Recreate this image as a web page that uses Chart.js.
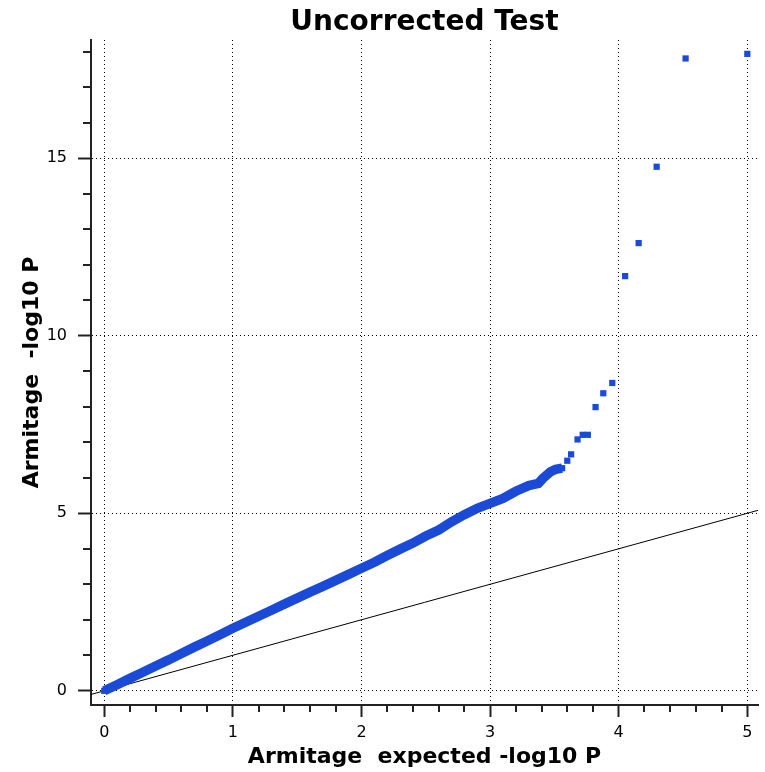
<!DOCTYPE html>
<html>
<head>
<meta charset="utf-8">
<title>Uncorrected Test</title>
<script src="https://cdn.jsdelivr.net/npm/chart.js@4/dist/chart.umd.min.js"></script>
<style>
    html, body { margin: 0; padding: 0; background: #fff; }
    #wrap { width: 765px; height: 772px; }
</style>
</head>
<body>
<div id="wrap"><canvas id="qq" width="765" height="772"></canvas></div>
<script>
    'use strict';

    var bandExpected = [0, 0.1, 0.2, 0.3, 0.4, 0.5, 0.6, 0.7, 0.8, 0.9, 1.0, 1.1, 1.2, 1.3, 1.4, 1.5,
        1.6, 1.7, 1.8, 1.9, 2.0, 2.1, 2.2, 2.3, 2.4, 2.5, 2.6, 2.7, 2.8, 2.9, 3.0, 3.1, 3.2, 3.3,
        3.375, 3.41, 3.47, 3.51, 3.56];
    var bandObserved = [0, 0.17, 0.35, 0.52, 0.70, 0.87, 1.05, 1.23, 1.40, 1.58, 1.76, 1.93, 2.10, 2.27,
        2.44, 2.61, 2.78, 2.94, 3.11, 3.28, 3.45, 3.62, 3.81, 3.99, 4.16, 4.36, 4.53, 4.76, 4.96, 5.14,
        5.28, 5.42, 5.62, 5.78, 5.84, 5.98, 6.17, 6.24, 6.27];

    // Sparse top hits.
    var tailExpected = [3.60, 3.63, 3.68, 3.72, 3.76, 3.82, 3.88, 3.95, 4.05, 4.155, 4.295, 4.52, 5.0];
    var tailObserved = [6.48, 6.66, 7.08, 7.21, 7.21, 7.99, 8.38, 8.67, 11.68, 12.61, 14.76, 17.81, 17.94];

    // y = x reference line.
    var nullLine = [-0.5, 5.5];

    var xRange = [-0.103, 5.083];
    var yRange = [-0.40, 18.33];
    var xMinorStep = 0.2;
    var yMinorStep = 1;
    var xMajorStep = 1;
    var yMajorStep = 5;

    var pointBlue = '#1a4ad6';
    var axisColor = '#222';

    function zip(xs, ys) {
        return xs.map(function(x, i) { return { x: x, y: ys[i] }; });
    }

    function isMajor(v, step) {
        var r = v / step;
        return Math.abs(r - Math.round(r)) < 1e-6;
    }

    /**
     * Short unlabelled ticks between the major ones.
     */
    var minorTicks = {
        id: 'minorTicks',
        afterDraw: function(chart) {
            var ctx = chart.ctx;
            var xs = chart.scales.x;
            var ys = chart.scales.y;
            var area = chart.chartArea;
            ctx.save();
            ctx.strokeStyle = axisColor;
            ctx.lineWidth = 2;
            ctx.beginPath();
            xs.ticks.forEach(function(t) {
                if (isMajor(t.value, xMajorStep)) {
                    return;
                }
                var px = Math.round(xs.getPixelForValue(t.value));
                ctx.moveTo(px, area.bottom);
                ctx.lineTo(px, area.bottom + 7);
            });
            ys.ticks.forEach(function(t) {
                if (isMajor(t.value, yMajorStep)) {
                    return;
                }
                var py = Math.round(ys.getPixelForValue(t.value));
                ctx.moveTo(area.left, py);
                ctx.lineTo(area.left - 8, py);
            });
            ctx.stroke();
            ctx.restore();
        }
    };

    function axis(range, minor, major, tickLength, title, fitFn) {
        return {
            type: 'linear',
            min: range[0],
            max: range[1],
            afterFit: fitFn,
            border: { display: true, color: axisColor, width: 2, dash: [1, 3] },
            grid: {
                lineWidth: 1,
                color: function(c) {
                    return c.tick && isMajor(c.tick.value, major) ? '#000' : 'rgba(0,0,0,0)';
                },
                drawTicks: true,
                tickLength: tickLength,
                tickWidth: 2,
                tickColor: function(c) {
                    return c.tick && isMajor(c.tick.value, major) ? axisColor : 'rgba(0,0,0,0)';
                }
            },
            ticks: {
                stepSize: minor,
                includeBounds: false,
                autoSkip: false,
                maxRotation: 0,
                color: '#000',
                font: { family: 'DejaVu Sans', size: 16 },
                callback: function(v) {
                    return isMajor(v, major) ? String(Math.round(v)) : '';
                }
            },
            title: {
                display: true,
                text: title,
                color: '#000',
                font: { family: 'DejaVu Sans', size: 22, weight: 'bold' }
            }
        };
    }

    var xAxis = axis(xRange, xMinorStep, xMajorStep, 12, 'Armitage  expected -log10 P', function(s) {
        s.height = 67;
    });
    xAxis.ticks.padding = 6;
    xAxis.title.padding = { top: 0, bottom: 2 };

    var yAxis = axis(yRange, yMinorStep, yMajorStep, 13, 'Armitage  -log10 P', function(s) {
        s.width = 91;
    });
    yAxis.ticks.padding = 11;
    yAxis.title.padding = { top: 19, bottom: 0 };

    new Chart(document.getElementById('qq'), {
        type: 'scatter',
        data: {
            datasets: [{
                data: zip(bandExpected, bandObserved),
                showLine: true,
                borderColor: pointBlue,
                borderWidth: 9.5,
                backgroundColor: pointBlue,
                pointStyle: 'rect',
                pointRadius: 4.4,
                pointBorderWidth: 0
            }, {
                data: zip(tailExpected, tailObserved),
                backgroundColor: pointBlue,
                borderColor: pointBlue,
                pointStyle: 'rect',
                pointRadius: 4.4,
                pointBorderWidth: 0
            }, {
                data: zip(nullLine, nullLine),
                showLine: true,
                borderColor: '#000',
                borderWidth: 1,
                pointRadius: 0
            }]
        },
        options: {
            responsive: false,
            animation: false,
            devicePixelRatio: 1,
            layout: { padding: { left: 0, right: 7, top: 0, bottom: 0 } },
            plugins: {
                legend: { display: false },
                tooltip: { enabled: false },
                title: {
                    display: true,
                    text: 'Uncorrected Test',
                    color: '#000',
                    fullSize: false,
                    font: { family: 'DejaVu Sans', size: 28, weight: 'bold', lineHeight: 1.2 },
                    padding: { top: 6, bottom: 0.4 }
                }
            },
            scales: { x: xAxis, y: yAxis }
        },
        plugins: [minorTicks]
    });
</script>
</body>
</html>
